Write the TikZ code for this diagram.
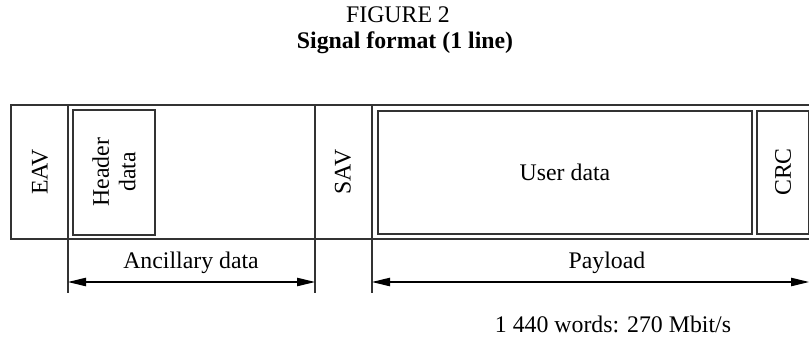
\documentclass[tikz,border=0pt]{standalone}
\usepackage{fontspec}
\setmainfont{Liberation Serif}
\usetikzlibrary{arrows.meta}
\begin{document}
\begin{tikzpicture}[x=0.5pt,y=-0.5pt,
  frame/.style={draw=black!80, line width=0.6pt},
  inner/.style={draw=black!80, line width=0.75pt},
  lbl/.style={font=\fontsize{11.9}{13.2}\selectfont, inner sep=0pt, align=center},
  vlbl/.style={lbl, rotate=90},
  dim/.style={line width=0.55pt, {Triangle[length=9pt,width=4.2pt]}-{Triangle[length=9pt,width=4.2pt]}}]
\useasboundingbox (0,0) rectangle (809,343);
\begin{scope}
\clip (0,0) rectangle (809.5,343);
% outer frame
\draw[frame] (820,105) -- (11,105) -- (11,239) -- (820,239);
\coordinate (e1t) at (68,105);   \coordinate (e1b) at (68,293);
\coordinate (e2t) at (315,105);  \coordinate (e2b) at (315,293);
\coordinate (e3t) at (372,105);  \coordinate (e3b) at (372,293);
\draw[frame] (e1t) -- (e1b);
\draw[frame] (e2t) -- (e2b);
\draw[frame] (e3t) -- (e3b);
% inner boxes
\draw[inner] (73,110) rectangle (155,235);
\draw[inner] (378,111) rectangle (752,234);
\draw[inner] (757,111) rectangle (808.6,234);
% dimension arrows
\coordinate (a1) at (68,282);  \coordinate (a2) at (315,282);
\coordinate (p1) at (372,282); \coordinate (p2) at (809,282);
\draw[dim] (a1) -- (a2);
\draw[dim] (p1) -- (p2);
\end{scope}
% labels
\node[lbl] (title) at (398,15) {FIGURE 2};
\node[lbl, font=\fontsize{11.9}{13.2}\selectfont\bfseries] (subtitle) at (405,43) {Signal format (1 line)};
\node[vlbl] (eav) at (40,172) {EAV};
\node[vlbl] (hdr) at (114,172) {Header\\data};
\node[vlbl] (sav) at (343,172) {SAV};
\node[lbl] (user) at (565,172) {User data};
\node[vlbl] (crc) at (783,172) {CRC};
\node[lbl] (anc) at (191,263) {Ancillary data};
\node[lbl] (pay) at (607,263) {Payload};
\node[lbl] (rate) at (613,324) {1 440 words: 270 Mbit/s};
\end{tikzpicture}
\end{document}
